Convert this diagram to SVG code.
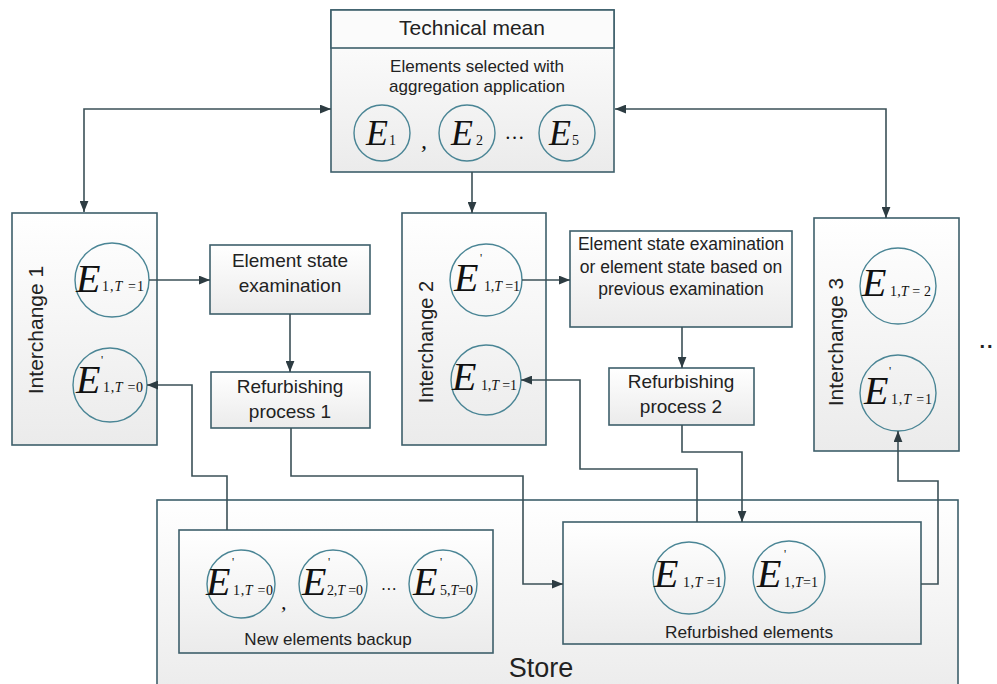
<svg xmlns="http://www.w3.org/2000/svg" width="997" height="684" viewBox="0 0 997 684">
<defs>
<linearGradient id="g" x1="0" y1="0" x2="0" y2="1">
<stop offset="0" stop-color="#ffffff"/>
<stop offset="1" stop-color="#ebebeb"/>
</linearGradient>
<marker id="ah" viewBox="0 0 10 8" refX="10" refY="4" markerWidth="11" markerHeight="9" markerUnits="userSpaceOnUse" orient="auto-start-reverse">
<path d="M0,0 L10,4 L0,8 z" fill="#2d3c42"/>
</marker>
</defs>
<style>
.box{fill:url(#g);stroke:#3e5f6b;stroke-width:1.6}
.hdr{fill:#fbfbfb;stroke:#3e5f6b;stroke-width:1.6}
.cir{fill:none;stroke:#4a8595;stroke-width:1.4}
.con{fill:none;stroke:#3b5057;stroke-width:1.6;marker-end:url(#ah)}
.t{font-family:"Liberation Sans",Arial,sans-serif;fill:#222;text-anchor:middle}
.E{font-family:"Liberation Serif","Times New Roman",serif;font-style:italic;fill:#111}
.s{font-family:"Liberation Serif","Times New Roman",serif;fill:#111;font-size:14px}
.p{font-family:"Liberation Serif","Times New Roman",serif;fill:#111;font-size:12px}
</style>
<rect width="997" height="684" fill="#ffffff"/>

<g id="store">
<rect class="box" x="157" y="500" width="801" height="200"/>
<text class="t" x="541" y="677" font-size="27">Store</text>
</g>

<g id="technical-mean">
<rect class="box" x="331" y="10" width="283" height="162"/>
<rect class="hdr" x="331" y="10" width="283" height="38"/>
<text class="t" x="472" y="35" font-size="21">Technical mean</text>
<text class="t" x="477" y="72" font-size="17">Elements selected with</text>
<text class="t" x="477" y="92" font-size="17">aggregation application</text>
<circle class="cir" cx="382" cy="133" r="28"/>
<circle class="cir" cx="467" cy="133" r="28"/>
<circle class="cir" cx="567" cy="133" r="28"/>
<text class="E" x="366" y="145" font-size="36">E</text>
<text class="s" x="389" y="145" font-size="17">1</text>
<text class="E" x="451" y="145" font-size="36">E</text>
<text class="s" x="476" y="145" font-size="17">2</text>
<text class="E" x="549" y="145" font-size="36">E</text>
<text class="s" x="572" y="145" font-size="17">5</text>
<text class="E" x="421" y="148" font-size="24" font-style="normal">,</text>
<text class="E" x="506" y="139" font-size="20" font-style="normal">…</text>
</g>

<g id="interchange-1">
<rect class="box" x="12" y="213" width="145" height="232"/>
<text class="t" transform="translate(43,330) rotate(-90)" font-size="21">Interchange 1</text>
<circle class="cir" cx="112" cy="280" r="37"/>
<circle class="cir" cx="110" cy="385" r="37"/>
<text class="E" x="76" y="292" font-size="40">E</text>
<text class="s" x="102" y="291" textLength="42" lengthAdjust="spacing">1,<tspan font-style="italic">T</tspan> =1</text>
<text class="E" x="76" y="393" font-size="40">E</text>
<text class="p" x="101" y="364">'</text>
<text class="s" x="103" y="392" textLength="40" lengthAdjust="spacing">1,<tspan font-style="italic">T</tspan> =0</text>
</g>

<g id="element-state-examination-1">
<rect class="box" x="210" y="245" width="160" height="69"/>
<text class="t" x="290" y="267" font-size="19">Element state</text>
<text class="t" x="290" y="292" font-size="19">examination</text>
</g>

<g id="refurbishing-process-1">
<rect class="box" x="211" y="372" width="159" height="56"/>
<text class="t" x="290" y="393" font-size="19">Refurbishing</text>
<text class="t" x="290" y="418" font-size="19">process 1</text>
</g>

<g id="interchange-2">
<rect class="box" x="402" y="213" width="144" height="232"/>
<text class="t" transform="translate(433,342) rotate(-90)" font-size="20">Interchange 2</text>
<circle class="cir" cx="486" cy="280" r="36"/>
<circle class="cir" cx="486" cy="380" r="35"/>
<text class="E" x="454" y="291" font-size="40">E</text>
<text class="p" x="480" y="262">'</text>
<text class="s" x="484" y="291" textLength="36" lengthAdjust="spacing">1,<tspan font-style="italic">T</tspan> =1</text>
<text class="E" x="452" y="390" font-size="40">E</text>
<text class="s" x="481" y="390" textLength="36" lengthAdjust="spacing">1,<tspan font-style="italic">T</tspan> =1</text>
</g>

<g id="element-state-examination-2">
<rect class="box" x="570" y="231" width="222" height="96"/>
<text class="t" x="681" y="250" font-size="17.5">Element state examination</text>
<text class="t" x="681" y="273" font-size="17.5">or element state based on</text>
<text class="t" x="681" y="295" font-size="17.5">previous examination</text>
</g>

<g id="refurbishing-process-2">
<rect class="box" x="609" y="368" width="145" height="57"/>
<text class="t" x="681" y="388" font-size="19">Refurbishing</text>
<text class="t" x="681" y="413" font-size="19">process 2</text>
</g>

<g id="interchange-3">
<rect class="box" x="814" y="218" width="145" height="233"/>
<text class="t" transform="translate(843,342) rotate(-90)" font-size="21">Interchange 3</text>
<circle class="cir" cx="898" cy="286" r="38"/>
<circle class="cir" cx="898" cy="393" r="38"/>
<text class="E" x="862" y="296" font-size="40">E</text>
<text class="s" x="890" y="296" textLength="41" lengthAdjust="spacing">1,<tspan font-style="italic">T</tspan> = 2</text>
<text class="E" x="864" y="404" font-size="40">E</text>
<text class="p" x="889" y="375">'</text>
<text class="s" x="891" y="404" textLength="41" lengthAdjust="spacing">1,<tspan font-style="italic">T</tspan> =1</text>
</g>

<g id="more">
<text class="t" x="987" y="348" font-size="20" font-weight="bold" letter-spacing="2">..</text>
</g>

<g id="new-elements-backup">
<rect class="box" x="179" y="530" width="314" height="123"/>
<circle class="cir" cx="241" cy="584" r="34"/>
<circle class="cir" cx="333" cy="584" r="34"/>
<circle class="cir" cx="443" cy="584" r="34"/>
<text class="E" x="206" y="595" font-size="40">E</text>
<text class="p" x="232" y="566">'</text>
<text class="s" x="233" y="595" textLength="40" lengthAdjust="spacing">1,<tspan font-style="italic">T</tspan> =0</text>
<text class="E" x="302" y="595" font-size="40">E</text>
<text class="p" x="328" y="566">'</text>
<text class="s" x="327" y="595" textLength="36" lengthAdjust="spacing">2,<tspan font-style="italic">T</tspan> =0</text>
<text class="E" x="413" y="595" font-size="40">E</text>
<text class="p" x="440" y="566">'</text>
<text class="s" x="440" y="595" textLength="33" lengthAdjust="spacing">5,<tspan font-style="italic">T</tspan>=0</text>
<text class="E" x="281" y="609" font-size="22" font-style="normal">,</text>
<text class="E" x="382" y="590" font-size="16" font-style="normal">…</text>
<text class="t" x="328" y="645" font-size="17">New elements backup</text>
</g>

<g id="refurbished-elements">
<rect class="box" x="563" y="522" width="358" height="122"/>
<circle class="cir" cx="689" cy="578" r="36"/>
<circle class="cir" cx="789" cy="577" r="36"/>
<text class="E" x="654" y="587" font-size="40">E</text>
<text class="s" x="683" y="587" textLength="39" lengthAdjust="spacing">1,<tspan font-style="italic">T</tspan> =1</text>
<text class="E" x="757" y="587" font-size="40">E</text>
<text class="p" x="784" y="558">'</text>
<text class="s" x="784" y="587" textLength="34" lengthAdjust="spacing">1,<tspan font-style="italic">T</tspan>=1</text>
<text class="t" x="749" y="638" font-size="17.3">Refurbished elements</text>
</g>

<g id="connectors">
<path class="con" d="M84,212 L84,109 L331,109" marker-start="url(#ah)"/>
<path class="con" d="M886,218 L886,109 L615,109" marker-start="url(#ah)"/>
<path class="con" d="M472,172 L472,213"/>
<path class="con" d="M149,280 L210,280"/>
<path class="con" d="M290,314 L290,372"/>
<path class="con" d="M291,428 L291,476 L523,476 L523,584 L563,584"/>
<path class="con" d="M227,530 L227,476 L192,476 L192,385 L147,385"/>
<path class="con" d="M522,280 L570,280"/>
<path class="con" d="M682,327 L682,368"/>
<path class="con" d="M682,425 L682,452 L742,452 L742,522"/>
<path class="con" d="M697,522 L697,469 L580,469 L580,380 L521,380"/>
<path class="con" d="M921,584 L938,584 L938,481 L898,481 L898,431"/>
</g>
</svg>
